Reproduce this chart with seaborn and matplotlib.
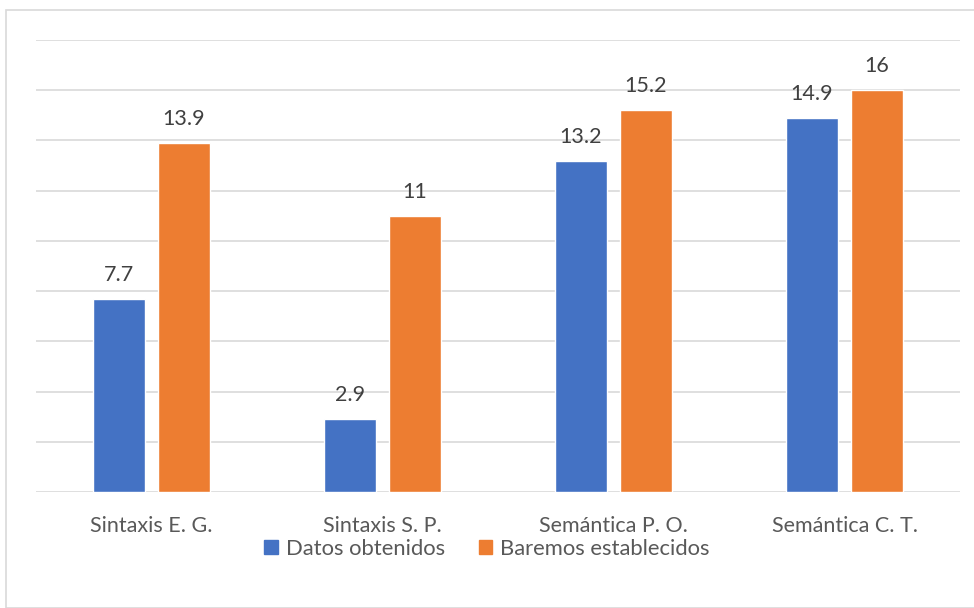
import matplotlib
matplotlib.use("Agg")
import matplotlib.pyplot as plt
from matplotlib.patches import Rectangle
import seaborn as sns
import pandas as pd

categories = ["Sintaxis E. G.", "Sintaxis S. P.", "Semántica P. O.", "Semántica C. T."]
datos_obtenidos = [7.7, 2.9, 13.2, 14.9]
baremos_establecidos = [13.9, 11, 15.2, 16]
series_names = ["Datos obtenidos", "Baremos establecidos"]
colors = ["#4472C4", "#ED7D31"]

df = pd.DataFrame({
    "categoria": categories * 2,
    "valor": datos_obtenidos + baremos_establecidos,
    "serie": [series_names[0]] * len(categories) + [series_names[1]] * len(categories),
})

sns.set_theme(style="white")
plt.rcParams["font.family"] = ["Lato", "DejaVu Sans"]

fig = plt.figure(figsize=(9.74, 6.08), dpi=100)
W, H = 974, 608
ax = fig.add_axes([36 / W, (H - 492) / H, (960 - 36) / W, (492 - 40) / H])

sns.barplot(data=df, x="categoria", y="valor", hue="serie", palette=colors,
            width=0.563, gap=0.2, ax=ax, legend=False, saturation=1)

ax.set_xlim(-0.5, 3.5)
ax.set_ylim(0, 18)
ax.set_yticks(range(0, 19, 2))
ax.set_yticklabels([])
ax.tick_params(axis="y", length=0)
ax.tick_params(axis="x", length=0, pad=17, labelsize=15.5, labelcolor="#595959")
ax.yaxis.grid(True, color="#D9D9D9", linewidth=1.2)
ax.set_axisbelow(True)
for s in ax.spines.values():
    s.set_visible(False)
ax.set_xlabel("")
ax.set_ylabel("")

for cont in ax.containers:
    ax.bar_label(cont, labels=[f"{v:g}" for v in cont.datavalues], padding=10,
                 fontsize=15.5, color="#404040")

# legend
handles = [Rectangle((0, 0), 1, 1, color=c) for c in colors]
fig.legend(handles, series_names, loc="center", bbox_to_anchor=(0.5, (H - 549) / H),
           ncol=2, frameon=False, fontsize=15.8, labelcolor="#595959",
           handlelength=0.62, handleheight=0.62, handletextpad=0.35, columnspacing=1.55)

# chart frame
fig.patches.append(Rectangle((6 / W, 0), 1, (H - 10) / H, transform=fig.transFigure,
                             fill=False, edgecolor="#D9D9D9", linewidth=1.2))

fig.savefig("out.png", dpi=100)
